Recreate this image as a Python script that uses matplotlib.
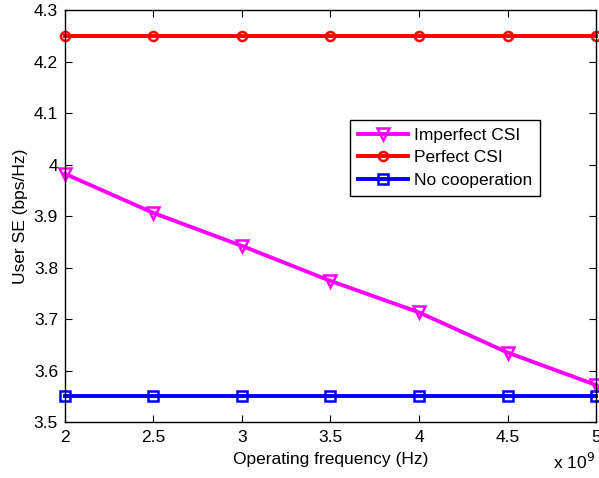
import numpy as np
import matplotlib
matplotlib.use("Agg")
from matplotlib import pyplot as plt

plt.rcParams['font.family'] = ['Liberation Sans', 'DejaVu Sans']

# operating frequency in units of 1e9 Hz
freq = [2, 2.5, 3, 3.5, 4, 4.5, 5]
imperfect = [3.982, 3.906, 3.842, 3.774, 3.713, 3.635, 3.572]
perfect = [4.25, 4.25, 4.25, 4.25, 4.25, 4.25, 4.25]
no_coop = [3.55, 3.55, 3.55, 3.55, 3.55, 3.55, 3.55]

fig = plt.figure(figsize=(5.99, 4.78), dpi=100)
ax = fig.add_axes([0.1085, 0.117, 0.8865, 0.862])

ax.plot(freq, imperfect, color='#ff00ff', lw=2.8, marker='v', ms=8, mfc='none', mew=1.8, label='Imperfect CSI', clip_on=False)
ax.plot(freq, perfect, color='#ff0000', lw=2.8, marker='o', ms=6.5, mfc='none', mew=1.8, label='Perfect CSI', clip_on=False)
ax.plot(freq, no_coop, color='#0000ff', lw=2.8, marker='s', ms=6.5, mfc='none', mew=1.8, label='No cooperation', clip_on=False)

ax.set_xlim(2, 5)
ax.set_ylim(3.5, 4.3)
ax.set_xticks([2, 2.5, 3, 3.5, 4, 4.5, 5])
ax.set_xticklabels(['2', '2.5', '3', '3.5', '4', '4.5', '5'])
ax.set_yticks(np.arange(3.5, 4.31, 0.1))
ax.set_yticklabels(['3.5', '3.6', '3.7', '3.8', '3.9', '4', '4.1', '4.2', '4.3'])
ax.tick_params(direction='in', top=True, right=True, labelsize=12.5, length=5)
ax.tick_params(axis='x', pad=6)
ax.tick_params(axis='y', pad=5)
for s in ax.spines.values():
    s.set_linewidth(1.0)

ax.set_xlabel('Operating frequency (Hz)', fontsize=12.5, labelpad=5)
ax.set_ylabel('User SE (bps/Hz)', fontsize=12.5, labelpad=4)
fig.text(0.993, 0.012, r'x 10$^{9}$', ha='right', va='bottom', fontsize=12.5)

leg = ax.legend(loc='upper left', bbox_to_anchor=(0.52, 0.754), fontsize=12.5,
                fancybox=False, edgecolor='black', framealpha=1,
                handlelength=2.9, borderpad=0.45, labelspacing=0.42, handletextpad=0.35)
leg.get_frame().set_linewidth(1.0)

fig.savefig('out.png', dpi=100)
